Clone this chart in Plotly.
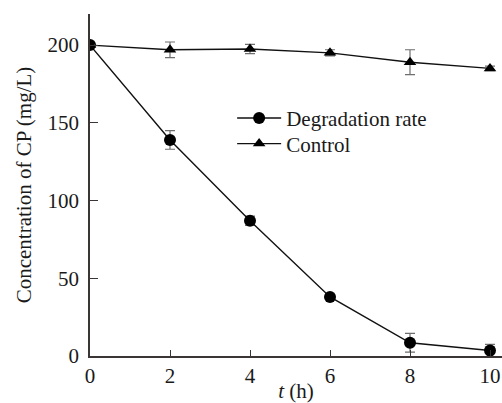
import plotly.graph_objects as go

t_hours = [0, 2, 4, 6, 8, 10]
degradation = [200, 139, 87, 38, 8.5, 3.5]
degradation_err = [0, 6, 3, 0.5, 6, 4]
control = [200, 197, 197.5, 195, 189, 185]
control_err = [0, 5, 3, 2, 8, 1.5]

x_ticks = [0, 2, 4, 6, 8, 10]
y_ticks = [0, 50, 100, 150, 200]

FONT = "Liberation Serif"
AX = "#3b3535"
TXT = "#1a1a1a"

def f(size=21):
    return dict(family=FONT, size=size, color=TXT)

fig = go.Figure()
fig.add_trace(go.Scatter(
    x=t_hours, y=degradation, name="Degradation rate", mode="lines+markers",
    line=dict(color="#111111", width=1.4), legend="legend",
    marker=dict(symbol="circle", size=12, color="#000000"),
    error_y=dict(type="data", array=degradation_err, color="#6e6e6e", thickness=1.2, width=5),
))
fig.add_trace(go.Scatter(
    x=t_hours, y=control, name="Control", mode="lines+markers",
    line=dict(color="#111111", width=1.4), legend="legend2",
    marker=dict(symbol="triangle-up", size=11, color="#000000"),
    error_y=dict(type="data", array=control_err, color="#6e6e6e", thickness=1.2, width=5),
))

leg_common = dict(xanchor="left", yanchor="top", bgcolor="rgba(0,0,0,0)",
                  font=f(), itemwidth=44)

fig.update_layout(
    width=502, height=403,
    margin=dict(l=90, r=0, t=14, b=47, autoexpand=False),
    paper_bgcolor="white", plot_bgcolor="white",
    font=f(),
    showlegend=True,
    legend=dict(x=0.345, y=0.755, **leg_common),
    legend2=dict(x=0.345, y=0.68, **leg_common),
    xaxis=dict(range=[0, 10.3], tickvals=x_ticks, ticks="inside", ticklen=6,
               tickcolor=AX, showline=True, linecolor=AX, linewidth=1.5,
               showgrid=False, zeroline=False, automargin=False,
               title=dict(text="<i>t</i> (h)", standoff=11, font=f()),
               tickfont=f()),
    yaxis=dict(range=[0, 220], tickvals=y_ticks, ticks="inside", ticklen=8,
               tickcolor=AX, showline=True, linecolor=AX, linewidth=1.5,
               showgrid=False, zeroline=False, ticklabelstandoff=5, automargin=False,
               title=dict(text="Concentration of CP (mg/L)", standoff=10, font=f()),
               tickfont=f()),
)

fig.write_html("out.html")
